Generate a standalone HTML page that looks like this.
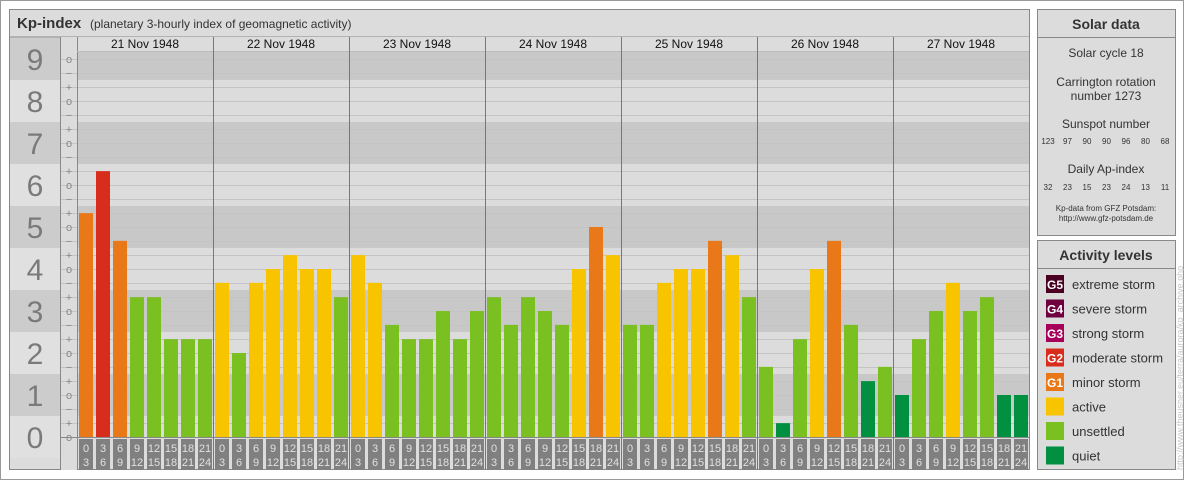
<!DOCTYPE html>
<html><head><meta charset="utf-8"><style>
html,body{margin:0;padding:0;background:#fff;}
svg{display:block;font-family:"Liberation Sans",sans-serif;}
</style></head><body>
<svg id="chart" width="1184" height="480" viewBox="0 0 1184 480" xmlns="http://www.w3.org/2000/svg">
<rect x="0.5" y="0.5" width="1183" height="479" fill="#fff" stroke="#999"/>
<g>
<rect x="9.5" y="9.5" width="1020" height="460" fill="#dcdcdc" stroke="#888"/>
<rect x="9.5" y="9.5" width="1020" height="27.5" fill="#dcdcdc" stroke="#888"/>
<text x="17" y="28" font-size="15" font-weight="bold" fill="#333">Kp-index</text>
<text x="90" y="28" font-size="12" fill="#333">(planetary 3-hourly index of geomagnetic activity)</text>
</g>
<g id="bands"></g>
<g id="grid"></g>
<g id="labels"></g>
<g id="bars"></g>
<g id="hours"></g>
<g>
<rect x="1037.5" y="9.5" width="138" height="226" fill="#dcdcdc" stroke="#888"/>
<line x1="1037.5" y1="37.5" x2="1175.5" y2="37.5" stroke="#888"/>
<text x="1106" y="29" font-size="14" font-weight="bold" fill="#333" text-anchor="middle">Solar data</text>
<g font-size="12" fill="#333" text-anchor="middle">
<text x="1106" y="57">Solar cycle 18</text>
<text x="1106" y="86">Carrington rotation</text>
<text x="1106" y="100">number 1273</text>
<text x="1106" y="128">Sunspot number</text>
<text x="1106" y="173">Daily Ap-index</text>
</g>
<g id="solarnums" font-size="8" fill="#333" text-anchor="middle"></g>
<text x="1106" y="211" font-size="8" fill="#333" text-anchor="middle">Kp-data from GFZ Potsdam:</text>
<text x="1106" y="221" font-size="8" fill="#333" text-anchor="middle">http://www.gfz-potsdam.de</text>
</g>
<g>
<rect x="1037.5" y="240.5" width="138" height="229" fill="#dcdcdc" stroke="#888"/>
<line x1="1037.5" y1="268.5" x2="1175.5" y2="268.5" stroke="#888"/>
<text x="1106" y="260" font-size="14" font-weight="bold" fill="#333" text-anchor="middle">Activity levels</text>
<g id="legend"></g>
</g>
<text transform="translate(1183,470) rotate(-90)" font-size="9" fill="#c8c8c8">http://www.theusner.eu/terra/aurora/kp_archive.php</text>
</svg>
<script>
const days = ["21 Nov 1948","22 Nov 1948","23 Nov 1948","24 Nov 1948","25 Nov 1948","26 Nov 1948","27 Nov 1948"];
const hourStart = ["0","3","6","9","12","15","18","21"];
const hourEnd = ["3","6","9","12","15","18","21","24"];
// Kp values in thirds (e.g. 5.33 = 5+, 4.67 = 5-)
const kpValues = [
 5.33,6.33,4.67,3.33,3.33,2.33,2.33,2.33,
 3.67,2.0,3.67,4.0,4.33,4.0,4.0,3.33,
 4.33,3.67,2.67,2.33,2.33,3.0,2.33,3.0,
 3.33,2.67,3.33,3.0,2.67,4.0,5.0,4.33,
 2.67,2.67,3.67,4.0,4.0,4.67,4.33,3.33,
 1.67,0.33,2.33,4.0,4.67,2.67,1.33,1.67,
 1.0,2.33,3.0,3.67,3.0,3.33,1.0,1.0];
const sunspots = ["123","97","90","90","96","80","68"];
const apIndex = ["32","23","15","23","24","13","11"];
const legendLabels = ["extreme storm","severe storm","strong storm","moderate storm","minor storm","active","unsettled","quiet"];
const legendCodes = ["G5","G4","G3","G2","G1","","",""];
const legendColors = ["#4a0022","#6e0040","#a8005a","#d82c1c","#e87818","#f8c400","#7ac020","#009040"];

const NS="http://www.w3.org/2000/svg";
function mk(tag,attrs,parent,txt){const e=document.createElementNS(NS,tag);for(const k in attrs)e.setAttribute(k,attrs[k]);if(txt!==undefined)e.textContent=txt;parent.appendChild(e);return e;}
const X0=77, DAYW=136, SLOT=17, Y0=437, UNIT=42, TOP=51;
const yScale=v=>Y0-v*UNIT;
const xDay=d=>X0+d*DAYW;
const xSlot=i=>X0+i*SLOT;
function color(v){if(v>=8.67)return legendColors[0];if(v>=7.67)return legendColors[1];if(v>=6.67)return legendColors[2];if(v>=5.67)return legendColors[3];if(v>=4.67)return legendColors[4];if(v>=3.67)return legendColors[5];if(v>=1.67)return legendColors[6];return legendColors[7];}

const bands=document.getElementById('bands'), grid=document.getElementById('grid'), labels=document.getElementById('labels');
for(let n=0;n<=9;n++){
  let y1=Math.max(yScale(n)-21,TOP), y2=Math.min(yScale(n)+21,Y0);
  let yl1=Math.max(yScale(n)-21,37), yl2=Math.min(yScale(n)+21,470);
  const dark=n%2===1;
  let r=mk('rect',{x:X0,y:y1,width:DAYW*7,height:y2-y1,fill:dark?'#c8c8c8':'#dcdcdc'},bands);
  
  
  let r2=mk('rect',{x:10,y:yl1,width:50,height:yl2-yl1,fill:dark?'#cccccc':'#e0e0e0'},bands);
  
  
  let t=mk('text',{x:35,y:yScale(n)+11,'font-size':30,fill:'#7a7a7a','text-anchor':'middle'},labels,String(n));
  
  
}
mk('rect',{x:60,y:37,width:17,height:433,fill:'#dcdcdc'},bands);
mk('rect',{x:X0,y:37,width:DAYW*7,height:14,fill:'#dcdcdc'},bands);
const subs=['o','+','\u2212'];
for(let k=0;k<=27;k++){
  const v=k/3, y=yScale(v);
  if(y<TOP+2)continue;
  if(k>0) mk('line',{x1:60,y1:y+0.5,x2:X0+DAYW*7,y2:y+0.5,stroke:'#c4c4c4','stroke-width':1},grid);
  const s=subs[k%3];
  const t=mk('text',{x:69,y:y+4,'font-size':11,fill:'#888','text-anchor':'middle'},labels,s);
  
  
}
mk('line',{x1:60.5,y1:37,x2:60.5,y2:470,stroke:'#888'},grid);
mk('line',{x1:X0+0.5,y1:37,x2:X0+0.5,y2:470,stroke:'#888'},grid);
mk('line',{x1:X0,y1:51.5,x2:X0+DAYW*7,y2:51.5,stroke:'#bbb'},grid);
mk('line',{x1:60,y1:Y0+0.5,x2:X0+DAYW*7,y2:Y0+0.5,stroke:'#888'},grid);
days.forEach((d,i)=>{
  if(i>0) mk('line',{x1:xDay(i)+0.5,y1:37,x2:xDay(i)+0.5,y2:470,stroke:'#777'},grid);
  const t=mk('text',{x:xDay(i)+DAYW/2,y:48,'font-size':12,fill:'#111','text-anchor':'middle'},labels,d);
  
  
});
const bars=document.getElementById('bars'), hours=document.getElementById('hours');
kpValues.forEach((v,i)=>{
  const y=yScale(v);
  const b=mk('rect',{x:xSlot(i)+2,y:y,width:14,height:Y0-y,fill:color(v)},bars);
  
  
  const h=i%8;
  const bx=mk('rect',{x:xSlot(i)+2,y:439,width:14,height:31,fill:'#808080'},hours);
  
  
  const t1=mk('text',{x:xSlot(i)+9,y:452,'font-size':11,fill:'#e0e0e0','text-anchor':'middle'},hours,hourStart[h]);
  
  
  const t2=mk('text',{x:xSlot(i)+9,y:466,'font-size':11,fill:'#e0e0e0','text-anchor':'middle'},hours,hourEnd[h]);
  
  
});
const sn=document.getElementById('solarnums');
for(let i=0;i<7;i++){
  const x=1048+i*19.5;
  const a=mk('text',{x:x,y:144},sn,sunspots[i]);
  
  
  const b=mk('text',{x:x,y:190},sn,apIndex[i]);
  
  
}
const lg=document.getElementById('legend');
legendLabels.forEach((l,i)=>{
  const y=275+i*24.5;
  const r=mk('rect',{x:1046,y:y,width:18,height:18,fill:legendColors[i]},lg);
  
  
  if(legendCodes[i]){const c=mk('text',{x:1055,y:y+14,'font-size':12,'font-weight':'bold',fill:'#fff','text-anchor':'middle'},lg,legendCodes[i]);
    
    }
  const t=mk('text',{x:1072,y:y+14,'font-size':13,fill:'#333'},lg,l);
  
  
});
</script>
</body></html>
